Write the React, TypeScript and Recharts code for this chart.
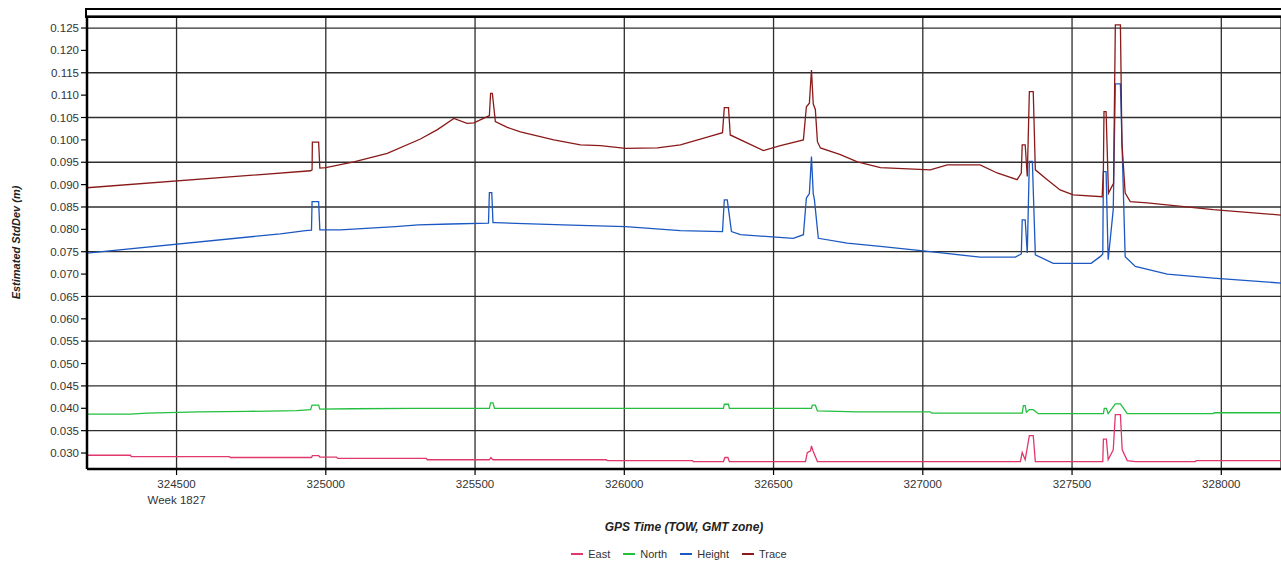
import { LineChart, Line, XAxis, YAxis, CartesianGrid } from "recharts"

// GPS time of week (s) and estimated std dev (m) per component
const eastTime = [
  324200, 324346, 324348, 324677, 324680, 324952, 324955, 324976, 324980, 325036, 325040, 325337,
  325340, 325548, 325553, 325560, 325940, 325943, 326228, 326231, 326332, 326337, 326347, 326352,
  326607, 326613, 326624, 326627, 326632, 326647, 327327, 327333, 327343, 327357, 327370, 327377,
  327603, 327605, 327615, 327621, 327638, 327645, 327662, 327668, 327685, 327712, 327913, 327916, 328200,
]
const eastValue = [
  0.0295, 0.0295, 0.0292, 0.0292, 0.029, 0.029, 0.0294, 0.0294, 0.0291, 0.0291, 0.0288, 0.0288,
  0.0285, 0.0285, 0.029, 0.0285, 0.0285, 0.0283, 0.0283, 0.0281, 0.0281, 0.029, 0.029, 0.0281,
  0.0281, 0.0301, 0.0305, 0.0316, 0.0305, 0.0281, 0.0281, 0.0301, 0.0285, 0.0339, 0.0339, 0.0281,
  0.0281, 0.0331, 0.0331, 0.0285, 0.0307, 0.0386, 0.0386, 0.0307, 0.0283, 0.0281, 0.0281, 0.0283, 0.0283,
]

const northTime = [
  324200, 324346, 324400, 324574, 324738, 324902, 324949, 324954, 324976, 324980, 325089, 325287,
  325548, 325552, 325560, 325565, 326332, 326335, 326349, 326352, 326627, 326630, 326640, 326647,
  326781, 327025, 327030, 327333, 327337, 327343, 327347, 327357, 327370, 327387, 327605, 327608,
  327615, 327621, 327645, 327662, 327685, 327973, 327976, 328200,
]
const northValue = [
  0.0387, 0.0387, 0.0389, 0.0392, 0.0393, 0.0395, 0.0397, 0.0407, 0.0407, 0.0398, 0.0399, 0.04,
  0.04, 0.0412, 0.0412, 0.04, 0.04, 0.0409, 0.0409, 0.04, 0.04, 0.0407, 0.0407, 0.0394,
  0.0392, 0.0392, 0.0389, 0.0389, 0.0406, 0.0406, 0.0391, 0.0397, 0.0397, 0.0388, 0.0388, 0.04,
  0.04, 0.0388, 0.041, 0.041, 0.0388, 0.0388, 0.039, 0.039,
]

const heightTime = [
  324200, 324848, 324932, 324952, 324954, 324976, 324980, 325049, 325233, 325310, 325418, 325545,
  325548, 325556, 325560, 325568, 325796, 325853, 326004, 326188, 326329, 326335, 326345, 326359,
  326389, 326566, 326600, 326610, 326620, 326627, 326633, 326637, 326650, 326747, 326858, 327025,
  327192, 327310, 327330, 327333, 327343, 327350, 327357, 327367, 327377, 327437, 327564, 327594,
  327603, 327605, 327614, 327621, 327638, 327645, 327662, 327668, 327678, 327712, 327819, 327973, 328200,
]
const heightValue = [
  0.0747, 0.079, 0.0797, 0.0798, 0.0862, 0.0862, 0.0799, 0.0799, 0.0806, 0.081, 0.0812, 0.0814,
  0.0882, 0.0882, 0.0815, 0.0815, 0.081, 0.0809, 0.0806, 0.0797, 0.0795, 0.0866, 0.0866, 0.0795,
  0.0788, 0.078, 0.0788, 0.087, 0.088, 0.0963, 0.088, 0.0866, 0.078, 0.0769, 0.0762, 0.075,
  0.0738, 0.0738, 0.0745, 0.0821, 0.0821, 0.0747, 0.0952, 0.0952, 0.0743, 0.0724, 0.0724, 0.0739,
  0.0745, 0.0929, 0.0929, 0.0732, 0.0844, 0.1125, 0.1125, 0.0978, 0.0739, 0.0717, 0.07, 0.0691, 0.068,
]

const traceTime = [
  324200, 324949, 324954, 324955, 324976, 324980, 325000, 325094, 325206, 325317, 325374, 325429,
  325473, 325496, 325541, 325548, 325552, 325558, 325568, 325608, 325652, 325764, 325853, 325920,
  326004, 326111, 326188, 326278, 326329, 326335, 326349, 326355, 326466, 326523, 326600, 326610,
  326620, 326627, 326633, 326640, 326647, 326657, 326724, 326781, 326858, 327025, 327082, 327192,
  327249, 327316, 327330, 327333, 327343, 327350, 327357, 327370, 327377, 327417, 327460, 327504,
  327601, 327605, 327607, 327614, 327622, 327639, 327645, 327662, 327664, 327667, 327678, 327695,
  327752, 327973, 328200,
]
const traceValue = [
  0.0893, 0.0931, 0.0933, 0.0995, 0.0995, 0.0937, 0.0938, 0.0951, 0.097, 0.1002, 0.1023, 0.1048,
  0.1037, 0.1038, 0.1052, 0.1054, 0.1104, 0.1104, 0.1041, 0.1028, 0.1018, 0.1, 0.0989, 0.0987,
  0.0981, 0.0982, 0.0989, 0.1006, 0.1016, 0.1072, 0.1072, 0.1011, 0.0976, 0.0987, 0.1, 0.1074,
  0.1082, 0.1156, 0.108, 0.1068, 0.0996, 0.0982, 0.0967, 0.0951, 0.0938, 0.0933, 0.0944, 0.0944,
  0.0926, 0.0911, 0.0926, 0.0989, 0.0989, 0.0918, 0.1108, 0.1108, 0.0933, 0.0911, 0.0888, 0.0877,
  0.0873, 0.0933, 0.1063, 0.1063, 0.0881, 0.0903, 0.1257, 0.1257, 0.1156, 0.0993, 0.0881, 0.0862,
  0.0859, 0.0844, 0.0832,
]

const xTicks = [324500, 325000, 325500, 326000, 326500, 327000, 327500, 328000]
const yTicks = [
  0.03, 0.035, 0.04, 0.045, 0.05, 0.055, 0.06, 0.065, 0.07, 0.075, 0.08, 0.085, 0.09, 0.095, 0.1,
  0.105, 0.11, 0.115, 0.12, 0.125,
]
const weekLabel = "Week 1827"

const series = [
  { name: "East", time: eastTime, value: eastValue, color: "#e0386c" },
  { name: "North", time: northTime, value: northValue, color: "#22c03e" },
  { name: "Height", time: heightTime, value: heightValue, color: "#1c58c2" },
  { name: "Trace", time: traceTime, value: traceValue, color: "#8a1a1a" },
]

const toRows = (time: number[], value: number[]) => time.map((t, i) => ({ t, v: value[i] }))

const FONT = '"Liberation Sans", Arial, sans-serif'

function TimeTick({ x, y, payload }: any) {
  return (
    <g>
      <text x={x} y={y + 11} textAnchor="middle" fontSize={11.5} fill="#333" fontFamily={FONT}>
        {payload.value}
      </text>
      {payload.value === xTicks[0] && (
        <text x={x} y={y + 27} textAnchor="middle" fontSize={11.5} fill="#333" fontFamily={FONT}>
          {weekLabel}
        </text>
      )}
    </g>
  )
}

export default function App() {
  return (
    <div style={{ position: "absolute", left: 0, top: 0, width: 1281, height: 564, fontFamily: FONT }}>
      <LineChart width={1281} height={564} margin={{ top: 16, right: 0, left: 0, bottom: 0 }}>
        <CartesianGrid stroke="#2e2e2e" strokeWidth={1.3} />
        <XAxis
          type="number"
          dataKey="t"
          domain={[324200, 328200]}
          ticks={xTicks}
          allowDataOverflow
          height={95}
          tick={<TimeTick />}
          tickSize={6}
          axisLine={{ stroke: "#000", strokeWidth: 2.5 }}
          tickLine={{ stroke: "#000", strokeWidth: 1.2 }}
          label={{
            value: "GPS Time (TOW, GMT zone)",
            position: "insideBottom",
            offset: 33,
            style: { fontSize: 12, fontWeight: "bold", fontStyle: "italic", fill: "#222", fontFamily: FONT },
          }}
        />
        <YAxis
          type="number"
          domain={[0.02643, 0.12769]}
          ticks={yTicks}
          allowDataOverflow
          width={87}
          tickSize={6}
          tickFormatter={(v: number) => v.toFixed(3)}
          tick={{ fontSize: 11.5, fill: "#333", fontFamily: FONT }}
          axisLine={{ stroke: "#000", strokeWidth: 2.5 }}
          tickLine={{ stroke: "#000", strokeWidth: 1.2 }}
          label={{
            value: "Estimated StdDev (m)",
            angle: -90,
            position: "insideLeft",
            offset: 16,
            style: {
              textAnchor: "middle",
              fontSize: 11,
              fontWeight: "bold",
              fontStyle: "italic",
              fill: "#222",
              fontFamily: FONT,
            },
          }}
        />
        {series.map((s) => (
          <Line
            key={s.name}
            name={s.name}
            data={toRows(s.time, s.value)}
            dataKey="v"
            type="linear"
            stroke={s.color}
            strokeWidth={1.3}
            dot={false}
            activeDot={false}
            isAnimationActive={false}
          />
        ))}
      </LineChart>
      {/* outer frame strip above the plot */}
      <div
        style={{
          position: "absolute",
          left: 85,
          top: 8,
          width: 1196,
          height: 6,
          borderTop: "2px solid #000",
          borderLeft: "2.5px solid #000",
          borderBottom: "2px solid #000",
        }}
      />
      <div
        style={{
          position: "absolute",
          top: 548,
          left: 0,
          width: 1358,
          display: "flex",
          justifyContent: "center",
          gap: 13,
          fontSize: 11,
          color: "#333",
        }}
      >
        {series.map((s) => (
          <div key={s.name} style={{ display: "flex", alignItems: "center" }}>
            <span style={{ display: "inline-block", width: 12, height: 2, background: s.color, marginRight: 5 }} />
            <span>{s.name}</span>
          </div>
        ))}
      </div>
    </div>
  )
}
